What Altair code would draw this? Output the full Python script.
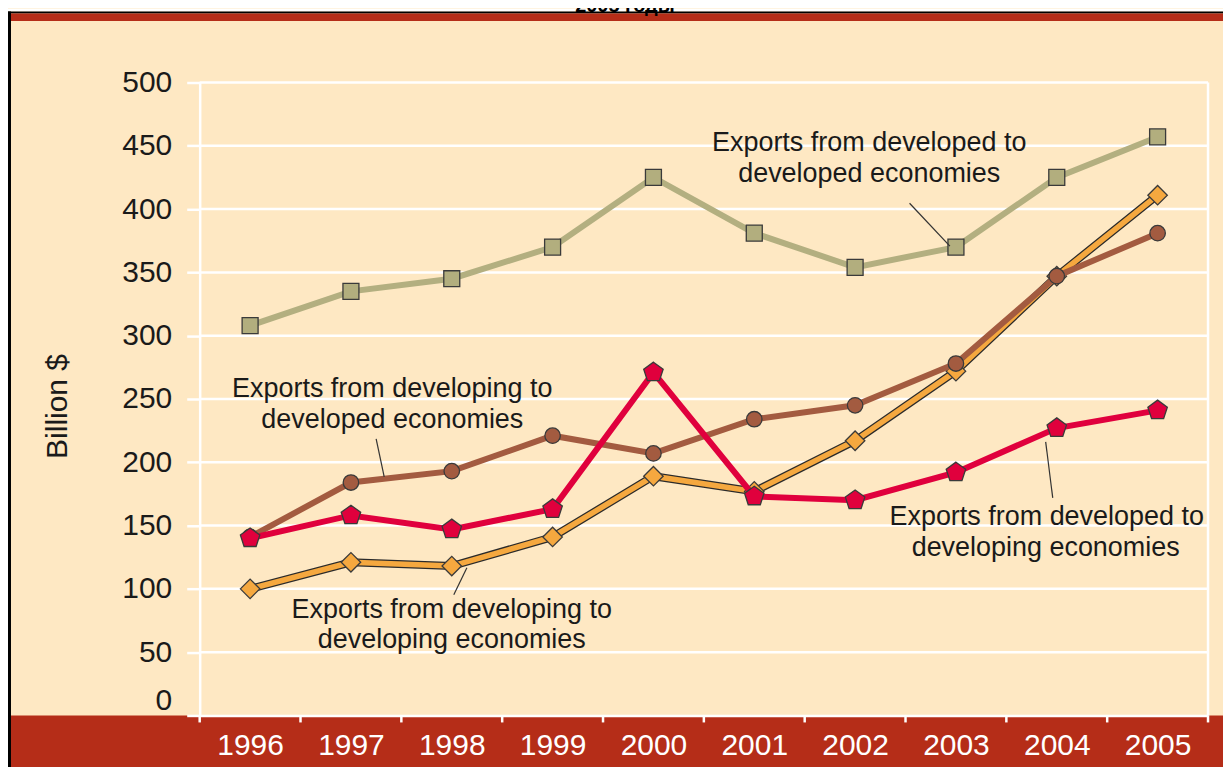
import altair as alt
import pandas as pd

# ---- data ----
years = list(range(1996, 2006))
dev_to_dev = [308, 335, 345, 370, 425, 381, 354, 370, 425, 457]
dvg_to_dev = [141, 184, 193, 221, 207, 234, 245, 278, 347, 381]
dev_to_dvg = [140, 158, 147, 163, 271, 173, 170, 192, 227, 241]
dvg_to_dvg = [100, 121, 118, 141, 189, 177, 217, 272, 347, 411]

y_ticks = list(range(0, 501, 50))
boundaries = [1995.5 + i for i in range(11)]

ann_text = [
    "Exports from developed to", "developed economies",
    "Exports from developing to", "developed economies",
    "Exports from developed to", "developing economies",
    "Exports from developing to", "developing economies",
]
ann_x = [2002.14, 2002.14, 1997.41, 1997.41, 2003.90, 2003.89, 1998.0, 1998.0]
ann_y = [451.9, 427.4, 257.9, 233.4, 156.9, 132.5, 83.6, 59.9]

lead_x = [2002.54, 1997.25, 2003.89, 1998.15]
lead_y = [404.6, 218.5, 216.1, 116.7]
lead_x2 = [2002.94, 1997.33, 2003.96, 1998.02]
lead_y2 = [370.7, 188.5, 171.9, 95.4]

title_text = "2005 годы"

FONT = "Liberation Sans"
CREAM = "#FEE8C3"
RED = "#B52D18"
W, H = 1010, 634

xscale = alt.Scale(domain=[1995.5, 2005.5], nice=False, zero=False)
yscale = alt.Scale(domain=[0, 500], nice=False, zero=True)

x_axis = alt.Axis(values=years, format="d", title=None, grid=False, ticks=False, tickSize=0,
                  domainColor="white", domainWidth=2.5, labelColor="white",
                  labelFontSize=30, labelFont=FONT, labelPadding=30, labelBaseline="middle",
                  labelFlush=False, labelOverlap=False, zindex=1)
y_axis = alt.Axis(values=y_ticks, title="Billion $", titleFontSize=30, titleFont=FONT,
                  titleFontWeight="normal", titleColor="#1a1a1a", titleX=-142, titleY=324,
                  titleAngle=270, titleAlign="center", titleBaseline="middle",
                  grid=False, domainColor="white", domainWidth=2.5, tickColor="white",
                  tickWidth=2.5, tickSize=13, labelPadding=15, labelFontSize=30,
                  labelFont=FONT, labelColor="#1a1a1a",
                  labelBaseline={"condition": {"test": "datum.value == 0", "value": "bottom"},
                                 "value": "middle"},
                  labelFlush=False, labelOverlap=False, zindex=1)

X = alt.X("year:Q", scale=xscale, axis=x_axis)
Y = alt.Y("value:Q", scale=yscale, axis=y_axis)

one = pd.DataFrame({"a": [0]})

def deco(x, x2, y, y2, color):
    return alt.Chart(one).mark_rect(color=color).encode(
        x=alt.value(x), x2=alt.value(x2), y=alt.value(y), y2=alt.value(y2))

decos = [
    deco(-192, 1040, -74, -71, "white"),
    deco(-192, 1040, -71, -69, "black"),
    deco(-190, 1040, -69, -61.5, RED),
    deco(-192, -189, -71, 700, "black"),
    deco(-189, 1040, 634, 700, RED),
]

grid = alt.Chart(pd.DataFrame({"value": y_ticks[1:]})).mark_rule(color="white", strokeWidth=2.5).encode(
    x=alt.value(0), x2=alt.value(W), y=Y)

right_line = alt.Chart(one).mark_rule(color="white", strokeWidth=2.5).encode(
    x=alt.value(W), y=alt.value(0), y2=alt.value(H))

btick = alt.Chart(pd.DataFrame({"year": boundaries})).mark_rule(color="white", strokeWidth=2.5).encode(
    x=X, y=alt.value(H), y2=alt.value(H + 7))

def sdf(vals):
    return pd.DataFrame({"year": years, "value": vals})

PENT = "M0,-1L0.951,-0.309L0.588,0.809L-0.588,0.809L-0.951,-0.309Z"
OUT = "#3a3a3a"

olive_line = alt.Chart(sdf(dev_to_dev)).mark_line(color="#B3AF80", strokeWidth=6).encode(x=X, y=Y)
olive_pts = alt.Chart(sdf(dev_to_dev)).mark_point(shape="square", filled=True, fill="#B2AE7E",
    stroke=OUT, strokeWidth=1.3, size=256, opacity=1).encode(x=X, y=Y)

orange_out = alt.Chart(sdf(dvg_to_dvg)).mark_line(color="#2a2a2a", strokeWidth=8).encode(x=X, y=Y)
orange_line = alt.Chart(sdf(dvg_to_dvg)).mark_line(color="#F5A83F", strokeWidth=5.5).encode(x=X, y=Y)
orange_pts = alt.Chart(sdf(dvg_to_dvg)).mark_point(shape="diamond", filled=True, fill="#F5A83F",
    stroke=OUT, strokeWidth=1.3, size=380, opacity=1).encode(x=X, y=Y)

brown_line = alt.Chart(sdf(dvg_to_dev)).mark_line(color="#A35B40", strokeWidth=6).encode(x=X, y=Y)
brown_pts = alt.Chart(sdf(dvg_to_dev)).mark_point(shape="circle", filled=True, fill="#A35B40",
    stroke=OUT, strokeWidth=1.3, size=240, opacity=1).encode(x=X, y=Y)

red_line = alt.Chart(sdf(dev_to_dvg)).mark_line(color="#E0003D", strokeWidth=6).encode(x=X, y=Y)
red_pts = alt.Chart(sdf(dev_to_dvg)).mark_point(shape=PENT, filled=True, fill="#E0003D",
    stroke=OUT, strokeWidth=1.3, size=420, opacity=1).encode(x=X, y=Y)

ann = alt.Chart(pd.DataFrame({"year": ann_x, "value": ann_y, "t": ann_text})).mark_text(
    font=FONT, fontSize=27, color="#1a1a1a", align="center", baseline="middle").encode(
    x=X, y=Y, text="t:N")

leaders = alt.Chart(pd.DataFrame({"year": lead_x, "value": lead_y, "year2": lead_x2, "value2": lead_y2})
    ).mark_rule(color="#333333", strokeWidth=1.2).encode(x=X, y=Y, x2="year2:Q", y2="value2:Q")

title = alt.Chart(pd.DataFrame({"t": [title_text]})).mark_text(
    font=FONT, fontSize=20, fontWeight="bold", color="black", align="center",
    baseline="alphabetic").encode(x=alt.value(426), y=alt.value(-71), text="t:N")

chart = alt.layer(
    *decos, grid, right_line, btick,
    olive_line, olive_pts,
    orange_out, orange_line, orange_pts,
    brown_line, brown_pts,
    red_line, red_pts,
    leaders, ann, title,
).properties(
    width=W, height=H,
    padding={"left": 192, "top": 74, "right": 15, "bottom": 51},
    autosize=alt.AutoSizeParams(type="none"),
    background=CREAM,
).configure_view(stroke=None)

chart.save("out.html", embed_options={"renderer": "svg", "actions": False})
